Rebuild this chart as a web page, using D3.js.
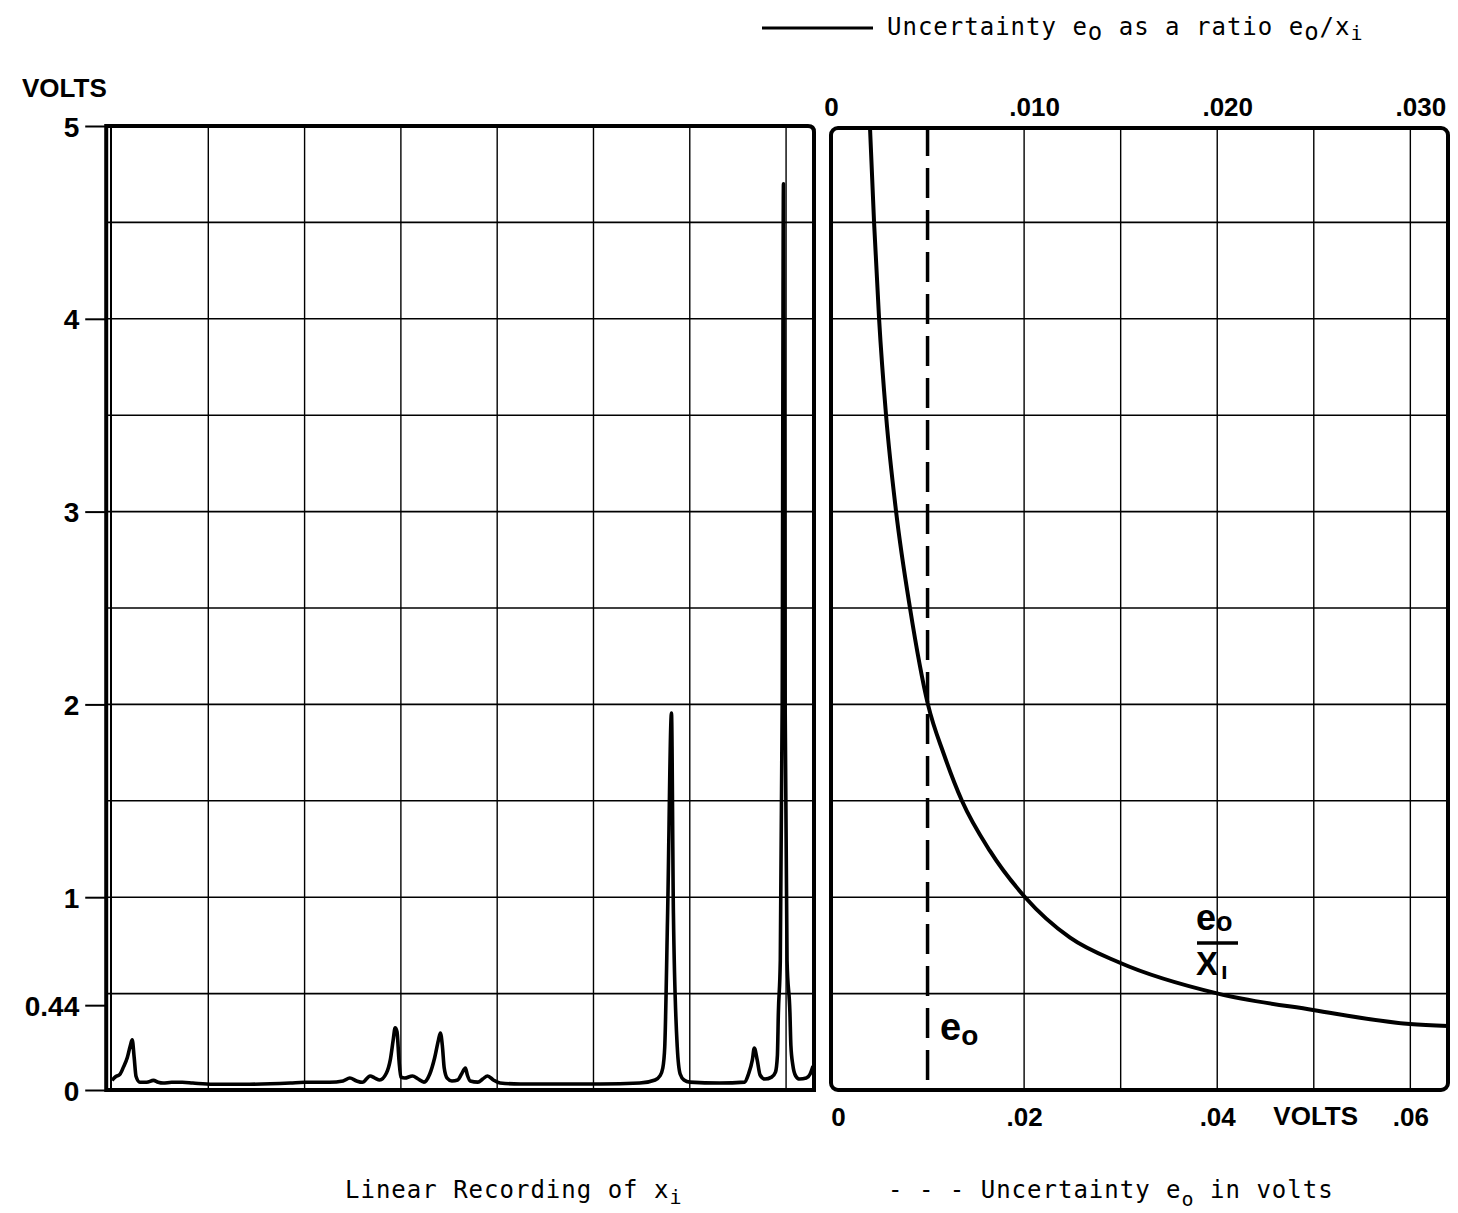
<!DOCTYPE html>
<html>
<head>
<meta charset="utf-8">
<script src="https://cdn.jsdelivr.net/npm/d3@7.9.0/dist/d3.min.js"></script>
<style>
  body { margin: 0; background: #fff; }
  svg { display: block; }
  .num { font-family: "Liberation Sans", Arial, sans-serif; font-size: 26px; font-weight: bold; fill: #000; }
  .mono { font-family: "DejaVu Sans Mono", monospace; font-size: 24px; letter-spacing: 1px; fill: #000; }
</style>
</head>
<body>
<div id="chart"></div>
<script>
// volts axis (shared by both panels)
const voltTicks = [0, 0.44, 1, 2, 3, 4, 5];
const voltTickLabels = ['0', '0.44', '1', '2', '3', '4', '5'];
const voltGrid = [0.5, 1, 1.5, 2, 2.5, 3, 3.5, 4, 4.5];

// left panel: chart divisions of the recording
const leftGrid = [1, 2, 3, 4, 5, 6, 7];

// recorded trace, [division, volts]
const trace = [
  [0.00, 0.05], [0.04, 0.07], [0.08, 0.08], [0.12, 0.12], [0.16, 0.17], [0.19, 0.23],
  [0.21, 0.26], [0.23, 0.17], [0.25, 0.07], [0.29, 0.04], [0.36, 0.04], [0.43, 0.05],
  [0.48, 0.04], [0.53, 0.036], [0.62, 0.04], [0.73, 0.04], [0.84, 0.036], [1.05, 0.03],
  [1.43, 0.03], [1.85, 0.036], [2.00, 0.04], [2.26, 0.04], [2.40, 0.047], [2.47, 0.062],
  [2.54, 0.047], [2.60, 0.04], [2.68, 0.073], [2.73, 0.062], [2.78, 0.052], [2.85, 0.088],
  [2.89, 0.156], [2.92, 0.259], [2.94, 0.322], [2.96, 0.301], [2.98, 0.156], [3.00, 0.067],
  [3.04, 0.062], [3.12, 0.073], [3.18, 0.057], [3.24, 0.041], [3.30, 0.083], [3.35, 0.166],
  [3.39, 0.259], [3.41, 0.296], [3.43, 0.233], [3.45, 0.114], [3.48, 0.062], [3.53, 0.047],
  [3.59, 0.052], [3.63, 0.083], [3.67, 0.114], [3.69, 0.078], [3.72, 0.047], [3.80, 0.041],
  [3.85, 0.057], [3.90, 0.073], [3.96, 0.052], [4.03, 0.036], [4.24, 0.031], [4.65, 0.031],
  [5.07, 0.031], [5.48, 0.036], [5.64, 0.052], [5.69, 0.073], [5.72, 0.114], [5.74, 0.223],
  [5.77, 0.918], [5.81, 1.955], [5.83, 0.918], [5.87, 0.223], [5.90, 0.083], [5.94, 0.052],
  [6.00, 0.041], [6.31, 0.036], [6.57, 0.041], [6.61, 0.083], [6.65, 0.156], [6.67, 0.218],
  [6.70, 0.156], [6.73, 0.078], [6.78, 0.057], [6.85, 0.067], [6.89, 0.093], [6.91, 0.18],
  [6.92, 0.40], [6.94, 0.67], [6.96, 2.02], [6.973, 4.70], [6.99, 2.02], [7.01, 0.67],
  [7.04, 0.40], [7.05, 0.23], [7.07, 0.13], [7.10, 0.073], [7.14, 0.057], [7.21, 0.062],
  [7.25, 0.083], [7.28, 0.124]
];

// right panel: uncertainty e0 in volts (bottom) and ratio e0/xi (top)
const eoTicks = [0, 0.02, 0.04, 0.06];
const eoTickLabels = ['0', '.02', '.04', '.06'];
const eoGrid = [0.02, 0.03, 0.04, 0.05, 0.06];
const eoValue = 0.01;
const ratioTicks = [0, 0.01, 0.02, 0.03];
const ratioTickLabels = ['0', '.010', '.020', '.030'];

// ratio curve
const curveVolts = [4.99, 4.50, 4.00, 3.50, 3.00, 2.50, 2.00, 1.74, 1.50, 1.24, 1.00, 0.79, 0.66, 0.50, 0.415, 0.342, 0.332];
const curveRatio = [0.00202, 0.00223, 0.00249, 0.00285, 0.00337, 0.00409, 0.00502, 0.00585, 0.00678, 0.00823, 0.01005, 0.01238, 0.01496, 0.02004, 0.02496, 0.02998, 0.03195];

const width = 1458;
const height = 1213;

const svg = d3.select('#chart').append('svg')
  .attr('width', width)
  .attr('height', height);

const y = d3.scaleLinear().domain([0, 5]).range([1090, 126]);

// ---- left panel ----
const xDiv = d3.scaleLinear().domain([0, 7.29]).range([112, 814]);

const left = svg.append('g');

left.selectAll('line.hgrid')
  .data(voltGrid)
  .join('line')
  .attr('class', 'hgrid')
  .attr('x1', xDiv(-0.06)).attr('x2', xDiv(7.29))
  .attr('y1', d => y(d)).attr('y2', d => y(d))
  .attr('stroke', '#000').attr('stroke-width', 1.6);

left.selectAll('line.vgrid')
  .data(leftGrid)
  .join('line')
  .attr('class', 'vgrid')
  .attr('x1', d => xDiv(d)).attr('x2', d => xDiv(d))
  .attr('y1', y(5)).attr('y2', y(0))
  .attr('stroke', '#000').attr('stroke-width', 1.4);

// inner left line of the double edge
left.append('line')
  .attr('x1', xDiv(0) - 1).attr('x2', xDiv(0) - 1)
  .attr('y1', y(5)).attr('y2', y(0))
  .attr('stroke', '#000').attr('stroke-width', 2);

left.append('path')
  .attr('d', `M${xDiv(-0.06)},${y(0)} V${y(5)} H${xDiv(7.29) - 6} Q${xDiv(7.29)},${y(5)} ${xDiv(7.29)},${y(5) + 6} V${y(0)} Z`)
  .attr('fill', 'none')
  .attr('stroke', '#000')
  .attr('stroke-width', 4);

left.append('path')
  .datum(trace)
  .attr('fill', 'none')
  .attr('stroke', '#000')
  .attr('stroke-width', 3.6)
  .attr('stroke-linejoin', 'round')
  .attr('d', d3.line().x(d => xDiv(d[0])).y(d => y(d[1])).curve(d3.curveMonotoneX));

// volts axis
const yAxis = svg.append('g')
  .attr('transform', `translate(${xDiv(-0.06)},0)`)
  .call(d3.axisLeft(y).tickValues(voltTicks).tickFormat((d, i) => voltTickLabels[i]).tickSize(21).tickPadding(6));
yAxis.select('.domain').remove();
yAxis.selectAll('.tick line').attr('stroke', '#000').attr('stroke-width', 2);
yAxis.selectAll('.tick text').attr('class', 'num').attr('font-size', null).attr('font-family', null)
  .attr('dy', '0.36em').style('font-size', '28px');

svg.append('text').attr('class', 'num').attr('x', 22).attr('y', 97).text('VOLTS');

// ---- right panel ----
const xEo = d3.scaleLinear().domain([0, 0.0639]).range([831, 1448]);
const xRatio = d3.scaleLinear().domain([0, 0.03195]).range([831, 1448]);

const right = svg.append('g');

right.selectAll('line.hgrid')
  .data(voltGrid)
  .join('line')
  .attr('class', 'hgrid')
  .attr('x1', xEo(0)).attr('x2', xEo(0.0639))
  .attr('y1', d => y(d)).attr('y2', d => y(d))
  .attr('stroke', '#000').attr('stroke-width', 1.6);

right.selectAll('line.vgrid')
  .data(eoGrid)
  .join('line')
  .attr('class', 'vgrid')
  .attr('x1', d => xEo(d)).attr('x2', d => xEo(d))
  .attr('y1', y(5)).attr('y2', y(0))
  .attr('stroke', '#000').attr('stroke-width', 1.4);

right.append('rect')
  .attr('x', xEo(0)).attr('y', y(5) + 2)
  .attr('width', xEo(0.0639) - xEo(0)).attr('height', y(0) - y(5) - 2)
  .attr('rx', 7)
  .attr('fill', 'none')
  .attr('stroke', '#000')
  .attr('stroke-width', 4);

right.append('line')
  .attr('x1', xEo(eoValue)).attr('x2', xEo(eoValue))
  .attr('y1', y(5)).attr('y2', y(0))
  .attr('stroke', '#000').attr('stroke-width', 3.5)
  .attr('stroke-dasharray', '30,12');

right.append('path')
  .datum(d3.zip(curveRatio, curveVolts))
  .attr('fill', 'none')
  .attr('stroke', '#000')
  .attr('stroke-width', 4)
  .attr('d', d3.line().x(d => xRatio(d[0])).y(d => y(d[1])).curve(d3.curveMonotoneX));

// bottom axis (e0 in volts)
const bAxis = svg.append('g')
  .attr('transform', `translate(0,${y(0) + 12})`)
  .call(d3.axisBottom(xEo).tickValues(eoTicks).tickFormat((d, i) => eoTickLabels[i]).tickSize(0).tickPadding(6));
bAxis.select('.domain').remove();
bAxis.selectAll('.tick text').attr('class', 'num').attr('font-size', null).attr('font-family', null)
  .attr('dx', (d, i) => i === 0 ? 7 : 0);

svg.append('text').attr('class', 'num')
  .attr('x', xEo(0.0502)).attr('y', 1125).attr('text-anchor', 'middle').text('VOLTS');

// top axis (ratio)
const tAxis = svg.append('g')
  .attr('transform', `translate(0,${y(5) - 10})`)
  .call(d3.axisTop(xRatio).tickValues(ratioTicks).tickFormat((d, i) => ratioTickLabels[i]).tickSize(0).tickPadding(0));
tAxis.select('.domain').remove();
tAxis.selectAll('.tick text').attr('class', 'num').attr('font-size', null).attr('font-family', null)
  .attr('dx', (d, i) => i === 0 ? 0 : 10);

// in-chart labels
const eoLabel = svg.append('text').attr('class', 'num')
  .attr('x', 940).attr('y', 1040).style('font-size', '38px');
eoLabel.append('tspan').text('e');
eoLabel.append('tspan').attr('dy', 5).style('font-size', '28px').text('o');

const frac = svg.append('g').attr('class', 'num');
frac.append('text').attr('class', 'num').attr('x', 1196).attr('y', 930).style('font-size', '36px')
  .call(t => {
    t.append('tspan').text('e');
    t.append('tspan').attr('dy', 1).style('font-size', '27px').text('o');
  });
frac.append('line').attr('x1', 1197).attr('x2', 1238).attr('y1', 943).attr('y2', 943)
  .attr('stroke', '#000').attr('stroke-width', 3.5);
frac.append('text').attr('class', 'num').attr('x', 1196).attr('y', 975).style('font-size', '33px')
  .call(t => {
    t.append('tspan').text('X');
    t.append('tspan').attr('dx', 3).attr('dy', 4).style('font-size', '24px').text('ı');
  });

// legends
svg.append('line').attr('x1', 762).attr('x2', 873).attr('y1', 28).attr('y2', 28)
  .attr('stroke', '#000').attr('stroke-width', 3);

const topLegend = svg.append('text').attr('class', 'mono').attr('x', 887).attr('y', 35);
topLegend.append('tspan').text('Uncertainty e');
topLegend.append('tspan').attr('dy', 5).text('o');
topLegend.append('tspan').attr('dy', -5).text(' as a ratio e');
topLegend.append('tspan').attr('dy', 5).text('o');
topLegend.append('tspan').attr('dy', -5).text('/x');
topLegend.append('tspan').attr('dy', 5).style('font-size', '20px').text('i');

const bottomLeft = svg.append('text').attr('class', 'mono').attr('x', 345).attr('y', 1198);
bottomLeft.append('tspan').text('Linear Recording of x');
bottomLeft.append('tspan').attr('dy', 6).style('font-size', '20px').text('i');

const bottomRight = svg.append('text').attr('class', 'mono').attr('x', 888).attr('y', 1198);
bottomRight.append('tspan').text('- - - Uncertainty e');
bottomRight.append('tspan').attr('dy', 8).style('font-size', '20px').text('o');
bottomRight.append('tspan').attr('dy', -8).text(' in volts');
</script>
</body>
</html>
